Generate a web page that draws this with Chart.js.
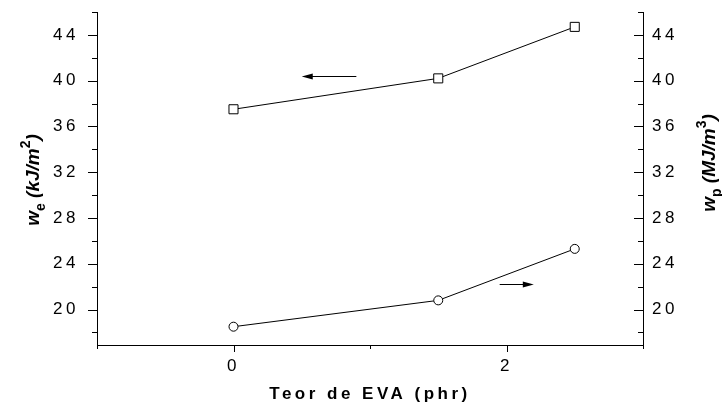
<!DOCTYPE html>
<html>
<head>
<meta charset="utf-8">
<script src="https://cdn.jsdelivr.net/npm/chart.js@4.4.1/dist/chart.umd.min.js"></script>
<style>
  html, body { margin: 0; padding: 0; background: #fff; }
</style>
</head>
<body>
<canvas id="eva-chart" width="722" height="405"></canvas>
<script>
// EVA content (phr) and the two fracture parameters
var evaContent = [0, 1.5, 2.5];
var weValues = [37.5, 40.2, 44.7];   // w_e, kJ/m2 (left axis)
var wpValues = [18.5, 20.8, 25.3];   // w_p, MJ/m3 (right axis)

// ticks
var xTickValues = [-1, 0, 1, 2, 3];
var xLabelValues = [0, 2];
var yTickValues = [18, 20, 22, 24, 26, 28, 30, 32, 34, 36, 38, 40, 42, 44, 46];
var yLabelValues = [20, 24, 28, 32, 36, 40, 44];

// arrows pointing each curve to its axis
var arrowTails = [0.9, 1.95];
var arrowHeads = [0.5, 2.2];
var arrowLevels = [40.4, 22.2];
var arrowAxes = ['y', 'y1'];

var FONT = "'Liberation Sans', Arial, sans-serif";

function yTicks(scale) {
    scale.ticks = yTickValues.map(function(v) { return { value: v }; });
}
function yLabel(v) {
    return yLabelValues.indexOf(v) >= 0 ? String(v) : '';
}
// fixed axis widths, no extra room for the end labels
function fitY(width) {
    return function(scale) {
        scale.width = width;
        scale.paddingTop = 0;
        scale.paddingBottom = 0;
    };
}

// rotated axis title with sub/superscripts
function drawRich(ctx, parts, cx, cy) {
    ctx.save();
    ctx.letterSpacing = '0px';
    ctx.translate(cx, cy);
    ctx.rotate(-Math.PI / 2);
    ctx.fillStyle = '#000';
    ctx.textBaseline = 'alphabetic';
    ctx.textAlign = 'left';
    var total = 0;
    parts.forEach(function(p) {
        ctx.font = p.font;
        p.w = ctx.measureText(p.t).width;
        total += p.w;
    });
    var x = -total / 2;
    parts.forEach(function(p) {
        ctx.font = p.font;
        ctx.fillText(p.t, x, p.dy || 0);
        x += p.w;
    });
    ctx.restore();
}

var decor = {
    id: 'decor',
    beforeDraw: function(chart) {
        chart.ctx.letterSpacing = '3.5px';
    },
    afterDraw: function(chart) {
        var ctx = chart.ctx;
        var xs = chart.scales.x, yl = chart.scales.y, yr = chart.scales.y1;
        var area = chart.chartArea;
        ctx.save();
        ctx.strokeStyle = '#000';
        ctx.lineWidth = 1;
        ctx.beginPath();
        xTickValues.forEach(function(v) {
            var px = Math.round(xs.getPixelForValue(v)) + 0.5;
            var len = xLabelValues.indexOf(v) >= 0 ? 7 : 4;
            ctx.moveTo(px, area.bottom);
            ctx.lineTo(px, area.bottom + len);
        });
        yTickValues.forEach(function(v) {
            var len = yLabelValues.indexOf(v) >= 0 ? 9 : 5;
            var py = Math.round(yl.getPixelForValue(v)) + 0.5;
            ctx.moveTo(area.left, py);
            ctx.lineTo(area.left - len, py);
            py = Math.round(yr.getPixelForValue(v)) + 0.5;
            ctx.moveTo(area.right, py);
            ctx.lineTo(area.right - len, py);
        });
        ctx.stroke();

        // arrows
        ctx.fillStyle = '#000';
        for (var i = 0; i < arrowTails.length; i++) {
            var ys = chart.scales[arrowAxes[i]];
            var y = Math.round(ys.getPixelForValue(arrowLevels[i])) + 0.5;
            var x0 = xs.getPixelForValue(arrowTails[i]);
            var x1 = xs.getPixelForValue(arrowHeads[i]);
            var dir = x1 > x0 ? 1 : -1;
            ctx.beginPath();
            ctx.moveTo(x0, y);
            ctx.lineTo(x1 - dir * 8, y);
            ctx.stroke();
            ctx.beginPath();
            ctx.moveTo(x1, y);
            ctx.lineTo(x1 - dir * 11, y - 3);
            ctx.lineTo(x1 - dir * 11, y + 3);
            ctx.closePath();
            ctx.fill();
        }
        ctx.restore();

        var big = 'italic bold 19px ' + FONT;
        var small = 'bold 14px ' + FONT;
        drawRich(ctx, [
            { t: 'w', font: big },
            { t: 'e', font: small, dy: 6 },
            { t: ' (kJ/m', font: big },
            { t: '2', font: small, dy: -9 },
            { t: ')', font: big }
        ], 39, 180);
        drawRich(ctx, [
            { t: 'w', font: big },
            { t: 'p', font: small, dy: 6 },
            { t: ' (MJ/m', font: big },
            { t: '3', font: small, dy: -9 },
            { t: ')', font: big }
        ], 715, 163);
    }
};

var tickFont = { family: FONT, size: 17 };
var noGrid = { display: false, drawTicks: false };

new Chart(document.getElementById('eva-chart').getContext('2d'), {
    type: 'line',
    data: {
        datasets: [{
            label: 'we',
            data: evaContent.map(function(x, i) { return { x: x, y: weValues[i] }; }),
            yAxisID: 'y',
            borderColor: '#000',
            borderWidth: 1,
            pointStyle: 'rect',
            pointRadius: 6.4,
            pointBackgroundColor: '#fff',
            pointBorderColor: '#000',
            pointBorderWidth: 1,
            tension: 0
        }, {
            label: 'wp',
            data: evaContent.map(function(x, i) { return { x: x, y: wpValues[i] }; }),
            yAxisID: 'y1',
            borderColor: '#000',
            borderWidth: 1,
            pointStyle: 'circle',
            pointRadius: 4.5,
            pointBackgroundColor: '#fff',
            pointBorderColor: '#000',
            pointBorderWidth: 1,
            tension: 0
        }]
    },
    options: {
        responsive: false,
        devicePixelRatio: 1,
        animation: false,
        layout: { padding: { top: 12, left: 0, right: 0, bottom: 0 } },
        plugins: {
            legend: { display: false },
            tooltip: { enabled: false }
        },
        scales: {
            x: {
                type: 'linear',
                min: -1,
                max: 3,
                grid: noGrid,
                border: { color: '#000', width: 1 },
                afterBuildTicks: function(scale) {
                    scale.ticks = xTickValues.map(function(v) { return { value: v }; });
                },
                afterFit: function(scale) {
                    scale.height = 60;
                    scale.paddingLeft = 0;
                    scale.paddingRight = 0;
                },
                ticks: {
                    color: '#000',
                    font: tickFont,
                    padding: 11,
                    maxRotation: 0,
                    autoSkip: false,
                    callback: function(v) { return xLabelValues.indexOf(v) >= 0 ? String(v) : ''; }
                },
                title: {
                    display: true,
                    text: 'Teor de EVA (phr)',
                    color: '#000',
                    font: { family: FONT, size: 17, weight: 'bold' },
                    padding: { top: 0, bottom: 0 }
                }
            },
            y: {
                position: 'left',
                min: 16.9,
                max: 46,
                grid: noGrid,
                border: { color: '#000', width: 1 },
                afterBuildTicks: yTicks,
                afterFit: fitY(97),
                ticks: { color: '#000', font: tickFont, padding: 18, autoSkip: false, callback: yLabel }
            },
            y1: {
                position: 'right',
                min: 16.9,
                max: 46,
                grid: noGrid,
                border: { color: '#000', width: 1 },
                afterBuildTicks: yTicks,
                afterFit: fitY(79),
                ticks: { color: '#000', font: tickFont, padding: 9, autoSkip: false, callback: yLabel }
            }
        }
    },
    plugins: [decor]
});
</script>
</body>
</html>
